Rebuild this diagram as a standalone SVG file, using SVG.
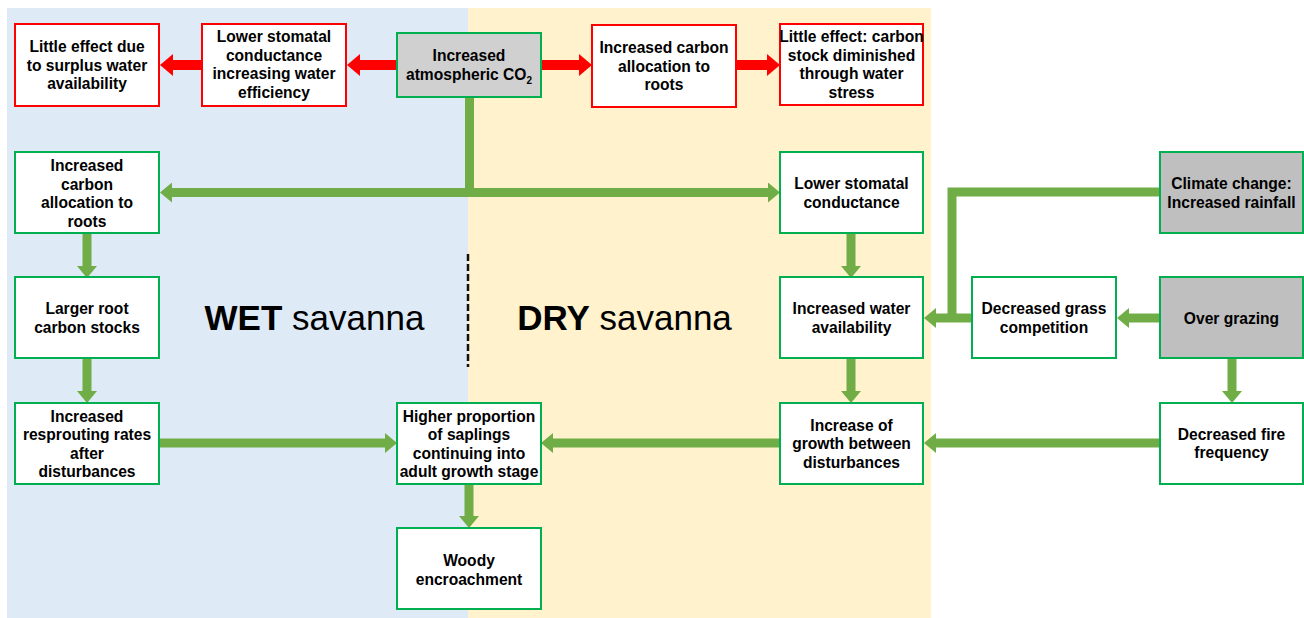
<svg xmlns="http://www.w3.org/2000/svg" width="1304" height="618" viewBox="0 0 1304 618">
<style>
.bx{fill:#fff;stroke-width:2}
.g{stroke:#00B050}
.r{stroke:#FF0000}
.gray1{fill:#D0D0D0}
.gray2{fill:#BFBFBF}
.t{font-family:"Liberation Sans",Arial,sans-serif;font-weight:bold;font-size:15.6px;fill:#000;text-anchor:middle}
.big{font-family:"Liberation Sans",Arial,sans-serif;font-size:35px;fill:#000;text-anchor:middle}
.ga{fill:none;stroke:#70AD47;stroke-width:9}
.ra{fill:none;stroke:#FF0000;stroke-width:10}
</style>
<defs>
<marker id="gh" markerUnits="userSpaceOnUse" viewBox="0 0 12 20" markerWidth="12" markerHeight="20" refX="0" refY="10" orient="auto">
<path d="M0 0 L12 10 L0 20 Z" fill="#70AD47"/>
</marker>
<marker id="rh" markerUnits="userSpaceOnUse" viewBox="0 0 13 22" markerWidth="13" markerHeight="22" refX="0" refY="11" orient="auto">
<path d="M0 0 L13 11 L0 22 Z" fill="#FF0000"/>
</marker>
</defs>
<rect x="0" y="0" width="1304" height="618" fill="#fff"/>
<rect x="7" y="8" width="461" height="610" fill="#DEEAF6"/>
<rect x="468" y="8" width="463" height="610" fill="#FFF2CC"/>
<line x1="468" y1="254" x2="468" y2="367" stroke="#111" stroke-width="2.5" stroke-dasharray="7 3"/>
<text class="big" x="314.5" y="330"><tspan font-weight="bold">WET</tspan> savanna</text>
<text class="big" x="624.5" y="330"><tspan font-weight="bold">DRY</tspan> savanna</text>
<g id="connectors">
<path class="ra" d="M397 65 H360" marker-end="url(#rh)"/>
<path class="ra" d="M202 65 H173" marker-end="url(#rh)"/>
<path class="ra" d="M541 65 H579" marker-end="url(#rh)"/>
<path class="ra" d="M736 65 H767" marker-end="url(#rh)"/>
<path class="ga" d="M469.5 97 V196.5"/>
<path class="ga" d="M469.5 192.5 H172" marker-end="url(#gh)"/>
<path class="ga" d="M469.5 192.5 H768" marker-end="url(#gh)"/>
<path class="ga" d="M87 233 V266" marker-end="url(#gh)"/>
<path class="ga" d="M87 358 V391" marker-end="url(#gh)"/>
<path class="ga" d="M851 233 V266" marker-end="url(#gh)"/>
<path class="ga" d="M851 358 V391" marker-end="url(#gh)"/>
<path class="ga" d="M1232 358 V391" marker-end="url(#gh)"/>
<path class="ga" d="M469 484 V516" marker-end="url(#gh)"/>
<path class="ga" d="M159 443 H385" marker-end="url(#gh)"/>
<path class="ga" d="M780 443 H553" marker-end="url(#gh)"/>
<path class="ga" d="M1160 443 H936" marker-end="url(#gh)"/>
<path class="ga" d="M1160 318 H1129" marker-end="url(#gh)"/>
<path class="ga" d="M972 318 H936" marker-end="url(#gh)"/>
<path class="ga" d="M1160 192 H952 V322"/>
</g>
<g id="n1"><rect class="bx r" x="15" y="24" width="144" height="82"/>
<text class="t" x="87" y="52"><tspan x="87">Little effect due</tspan><tspan x="87" dy="18.5">to surplus water</tspan><tspan x="87" dy="18.5">availability</tspan></text></g>
<g id="n2"><rect class="bx r" x="202" y="24" width="144" height="82"/>
<text class="t" x="274" y="42"><tspan x="274">Lower stomatal</tspan><tspan x="274" dy="18.5">conductance</tspan><tspan x="274" dy="18.5">increasing water</tspan><tspan x="274" dy="18.5">efficiency</tspan></text></g>
<g id="n3"><rect class="bx g gray1" x="397" y="33" width="144" height="64"/>
<text class="t" x="469" y="61"><tspan x="469">Increased</tspan><tspan x="469" dy="18.5">atmospheric CO<tspan font-size="10" dy="4">2</tspan></tspan></text></g>
<g id="n4"><rect class="bx r" x="592" y="25" width="144" height="82"/>
<text class="t" x="664" y="53"><tspan x="664">Increased carbon</tspan><tspan x="664" dy="18.5">allocation to</tspan><tspan x="664" dy="18.5">roots</tspan></text></g>
<g id="n5"><rect class="bx r" x="780" y="24" width="143" height="81"/>
<text class="t" x="851.5" y="42"><tspan x="851.5">Little effect: carbon</tspan><tspan x="851.5" dy="18.5">stock diminished</tspan><tspan x="851.5" dy="18.5">through water</tspan><tspan x="851.5" dy="18.5">stress</tspan></text></g>
<g id="n6"><rect class="bx g" x="15" y="152" width="144" height="81"/>
<text class="t" x="87" y="171"><tspan x="87">Increased</tspan><tspan x="87" dy="18.5">carbon</tspan><tspan x="87" dy="18.5">allocation to</tspan><tspan x="87" dy="18.5">roots</tspan></text></g>
<g id="n7"><rect class="bx g" x="780" y="152" width="143" height="81"/>
<text class="t" x="851.5" y="189"><tspan x="851.5">Lower stomatal</tspan><tspan x="851.5" dy="18.5">conductance</tspan></text></g>
<g id="n8"><rect class="bx g gray2" x="1160" y="152" width="143" height="81"/>
<text class="t" x="1231.5" y="189"><tspan x="1231.5">Climate change:</tspan><tspan x="1231.5" dy="18.5">Increased rainfall</tspan></text></g>
<g id="n9"><rect class="bx g" x="15" y="277" width="144" height="81"/>
<text class="t" x="87" y="314"><tspan x="87">Larger root</tspan><tspan x="87" dy="18.5">carbon stocks</tspan></text></g>
<g id="n10"><rect class="bx g" x="780" y="277" width="143" height="81"/>
<text class="t" x="851.5" y="314"><tspan x="851.5">Increased water</tspan><tspan x="851.5" dy="18.5">availability</tspan></text></g>
<g id="n11"><rect class="bx g" x="972" y="277" width="144" height="81"/>
<text class="t" x="1044" y="314"><tspan x="1044">Decreased grass</tspan><tspan x="1044" dy="18.5">competition</tspan></text></g>
<g id="n12"><rect class="bx g gray2" x="1160" y="277" width="143" height="81"/>
<text class="t" x="1231.5" y="323.5">Over grazing</text></g>
<g id="n13"><rect class="bx g" x="15" y="403" width="144" height="81"/>
<text class="t" x="87" y="421.5"><tspan x="87">Increased</tspan><tspan x="87" dy="18.5">resprouting rates</tspan><tspan x="87" dy="18.5">after</tspan><tspan x="87" dy="18.5">disturbances</tspan></text></g>
<g id="n14"><rect class="bx g" x="397" y="403" width="144" height="81"/>
<text class="t" x="469" y="421.5"><tspan x="469">Higher proportion</tspan><tspan x="469" dy="18.5">of saplings</tspan><tspan x="469" dy="18.5">continuing into</tspan><tspan x="469" dy="18.5">adult growth stage</tspan></text></g>
<g id="n15"><rect class="bx g" x="780" y="403" width="143" height="81"/>
<text class="t" x="851.5" y="430.5"><tspan x="851.5">Increase of</tspan><tspan x="851.5" dy="18.5">growth between</tspan><tspan x="851.5" dy="18.5">disturbances</tspan></text></g>
<g id="n16"><rect class="bx g" x="1160" y="403" width="143" height="81"/>
<text class="t" x="1231.5" y="439.5"><tspan x="1231.5">Decreased fire</tspan><tspan x="1231.5" dy="18.5">frequency</tspan></text></g>
<g id="n17"><rect class="bx g" x="397" y="528" width="144" height="81" stroke-width="3"/>
<text class="t" x="469" y="566"><tspan x="469">Woody</tspan><tspan x="469" dy="18.5">encroachment</tspan></text></g>
</svg>
